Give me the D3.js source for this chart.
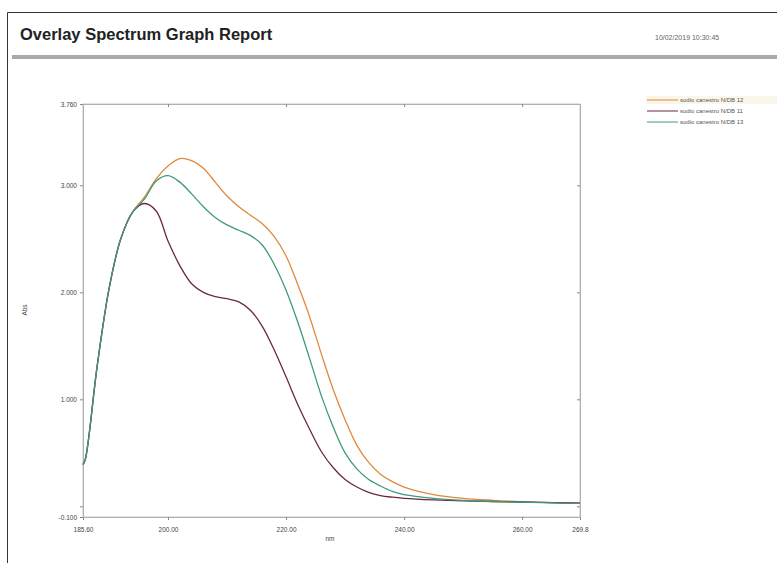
<!DOCTYPE html>
<html>
<head>
<meta charset="utf-8">
<script src="https://cdn.jsdelivr.net/npm/d3@7"></script>
<style>
  body { margin: 0; background: #fff; font-family: "Liberation Sans", Arial, sans-serif; }
  svg { display: block; }
</style>
</head>
<body>
<div class="box"></div>
<script>
// Wavelengths (nm) and absorbance of the three overlaid spectra
const wavelengths = [185.6, 186, 188, 190, 192, 194, 196, 198, 200, 202, 204, 206, 208, 210, 212, 214, 216, 218,
                     220, 222, 224, 226, 228, 230, 232, 234, 236, 238, 240, 245, 250, 255, 260, 265, 269.8];
const absOrange = [0.39, 0.44, 1.31, 2.03, 2.50, 2.75, 2.89, 3.06, 3.18, 3.25, 3.23, 3.16, 3.03, 2.90, 2.80, 2.72, 2.64, 2.52,
                   2.34, 2.07, 1.77, 1.42, 1.09, 0.81, 0.57, 0.41, 0.30, 0.23, 0.18, 0.11, 0.075, 0.056, 0.042, 0.035, 0.03];
const absGreen  = [0.39, 0.44, 1.31, 2.03, 2.50, 2.75, 2.87, 3.04, 3.09, 3.03, 2.92, 2.80, 2.70, 2.63, 2.58, 2.53, 2.44, 2.26,
                   2.02, 1.72, 1.38, 1.03, 0.74, 0.50, 0.35, 0.25, 0.19, 0.14, 0.11, 0.075, 0.056, 0.045, 0.038, 0.032, 0.028];
const absPurple = [0.39, 0.44, 1.31, 2.03, 2.50, 2.75, 2.83, 2.76, 2.48, 2.25, 2.08, 2.00, 1.96, 1.94, 1.91, 1.83, 1.68, 1.46,
                   1.21, 0.95, 0.72, 0.51, 0.36, 0.25, 0.18, 0.13, 0.10, 0.085, 0.075, 0.06, 0.05, 0.045, 0.04, 0.035, 0.03];

const seriesNames = ["sodio canestro N/DB 12", "sodio canestro N/DB 11", "sodio canestro N/DB 13"];
const seriesColors = ["#e0893c", "#6b2848", "#3f9a7c"];

// Axis ticks
const xTicks = [185.6, 200, 220, 240, 260, 269.8];
const xTickLabels = ["185.60", "200.00", "220.00", "240.00", "260.00", "269.8"];
const yTicks = [-0.1, 0, 1, 2, 3, 3.76];
const yTickLabels = ["-0.100", "", "1.000", "2.000", "3.000", "3.760"];

const W = 777, H = 563;
const svg = d3.select(".box").append("svg").attr("width", W).attr("height", H);

// PAGE FRAME / HEADER
svg.append("path")
    .attr("d", "M7.5,563 V12.5 H777")
    .attr("fill", "none")
    .attr("stroke", "#333")
    .attr("stroke-width", 1);

svg.append("text")
    .attr("x", 20).attr("y", 40)
    .text("Overlay Spectrum Graph Report")
    .style("font-weight", "bold")
    .style("font-size", "16.5px")
    .style("fill", "#222");

svg.append("text")
    .attr("x", 655).attr("y", 40)
    .text("10/02/2019  10:30:45")
    .style("font-size", "7px")
    .style("fill", "#666");

svg.append("rect")
    .attr("x", 12).attr("y", 55)
    .attr("width", W - 12).attr("height", 4)
    .attr("fill", "#a9a9a9");

// PLOT
const x = d3.scaleLinear().domain([185.6, 269.8]).range([83, 580]);
const y = d3.scaleLinear().domain([-0.1, 3.76]).range([517, 104]);

svg.append("rect")
    .attr("x", x.range()[0]).attr("y", y.range()[1])
    .attr("width", x.range()[1] - x.range()[0])
    .attr("height", y.range()[0] - y.range()[1])
    .attr("fill", "#fff")
    .attr("stroke", "#c8c8c8");

const xAxis = svg.append("g")
    .attr("transform", "translate(0," + y.range()[0] + ")")
    .call(d3.axisBottom(x).tickValues(xTicks).tickSize(3).tickFormat((d, i) => xTickLabels[i]));
const xAxisTop = svg.append("g")
    .attr("transform", "translate(0," + y.range()[1] + ")")
    .call(d3.axisBottom(x).tickValues(xTicks.slice(1, -1)).tickSize(3).tickFormat(""));
const yAxis = svg.append("g")
    .attr("transform", "translate(" + x.range()[0] + ",0)")
    .call(d3.axisLeft(y).tickValues(yTicks).tickSize(3).tickFormat((d, i) => yTickLabels[i]));
const yAxisRight = svg.append("g")
    .attr("transform", "translate(" + x.range()[1] + ",0)")
    .call(d3.axisLeft(y).tickValues(yTicks.slice(1, -1)).tickSize(3).tickFormat(""));

[xAxis, xAxisTop, yAxis, yAxisRight].forEach(g => {
    g.select(".domain").attr("stroke", "#b0b0b0");
    g.selectAll(".tick line").attr("stroke", "#888");
    g.selectAll("text").style("font-size", "6.5px").style("fill", "#444")
        .style("font-family", "Liberation Sans, Arial, sans-serif");
});
xAxis.selectAll("text").attr("dy", "1.4em");

svg.append("text")
    .attr("x", 330).attr("y", 541)
    .attr("text-anchor", "middle")
    .text("nm")
    .style("font-size", "6.5px").style("fill", "#444");

svg.append("text")
    .attr("transform", "translate(27,310) rotate(-90)")
    .attr("text-anchor", "middle")
    .text("Abs")
    .style("font-size", "6.5px").style("fill", "#444");

// LINES
const line = d3.line()
    .x((d, i) => x(wavelengths[i]))
    .y(d => y(d))
    .curve(d3.curveCatmullRom.alpha(0.5));

const series = [absOrange, absPurple, absGreen];
svg.selectAll(".spectrum")
    .data(series)
    .enter()
    .append("path")
    .attr("class", "spectrum")
    .attr("d", d => line(d))
    .attr("fill", "none")
    .attr("stroke", (d, i) => seriesColors[i])
    .attr("stroke-width", 1.3);

// LEGEND
const legend = svg.append("g").attr("id", "legend");
legend.append("rect")
    .attr("x", 646).attr("y", 96)
    .attr("width", 131).attr("height", 8)
    .attr("fill", "#fbf6ea");

legend.selectAll(".legend-line")
    .data(seriesNames)
    .enter()
    .append("line")
    .attr("x1", 647).attr("x2", 678)
    .attr("y1", (d, i) => 100 + i * 11)
    .attr("y2", (d, i) => 100 + i * 11)
    .attr("stroke", (d, i) => seriesColors[i])
    .attr("stroke-width", 1);

legend.selectAll(".legend-text")
    .data(seriesNames)
    .enter()
    .append("text")
    .attr("x", 680)
    .attr("y", (d, i) => 102 + i * 11)
    .text(d => d)
    .style("font-size", "6px")
    .style("fill", "#555");
</script>
</body>
</html>
